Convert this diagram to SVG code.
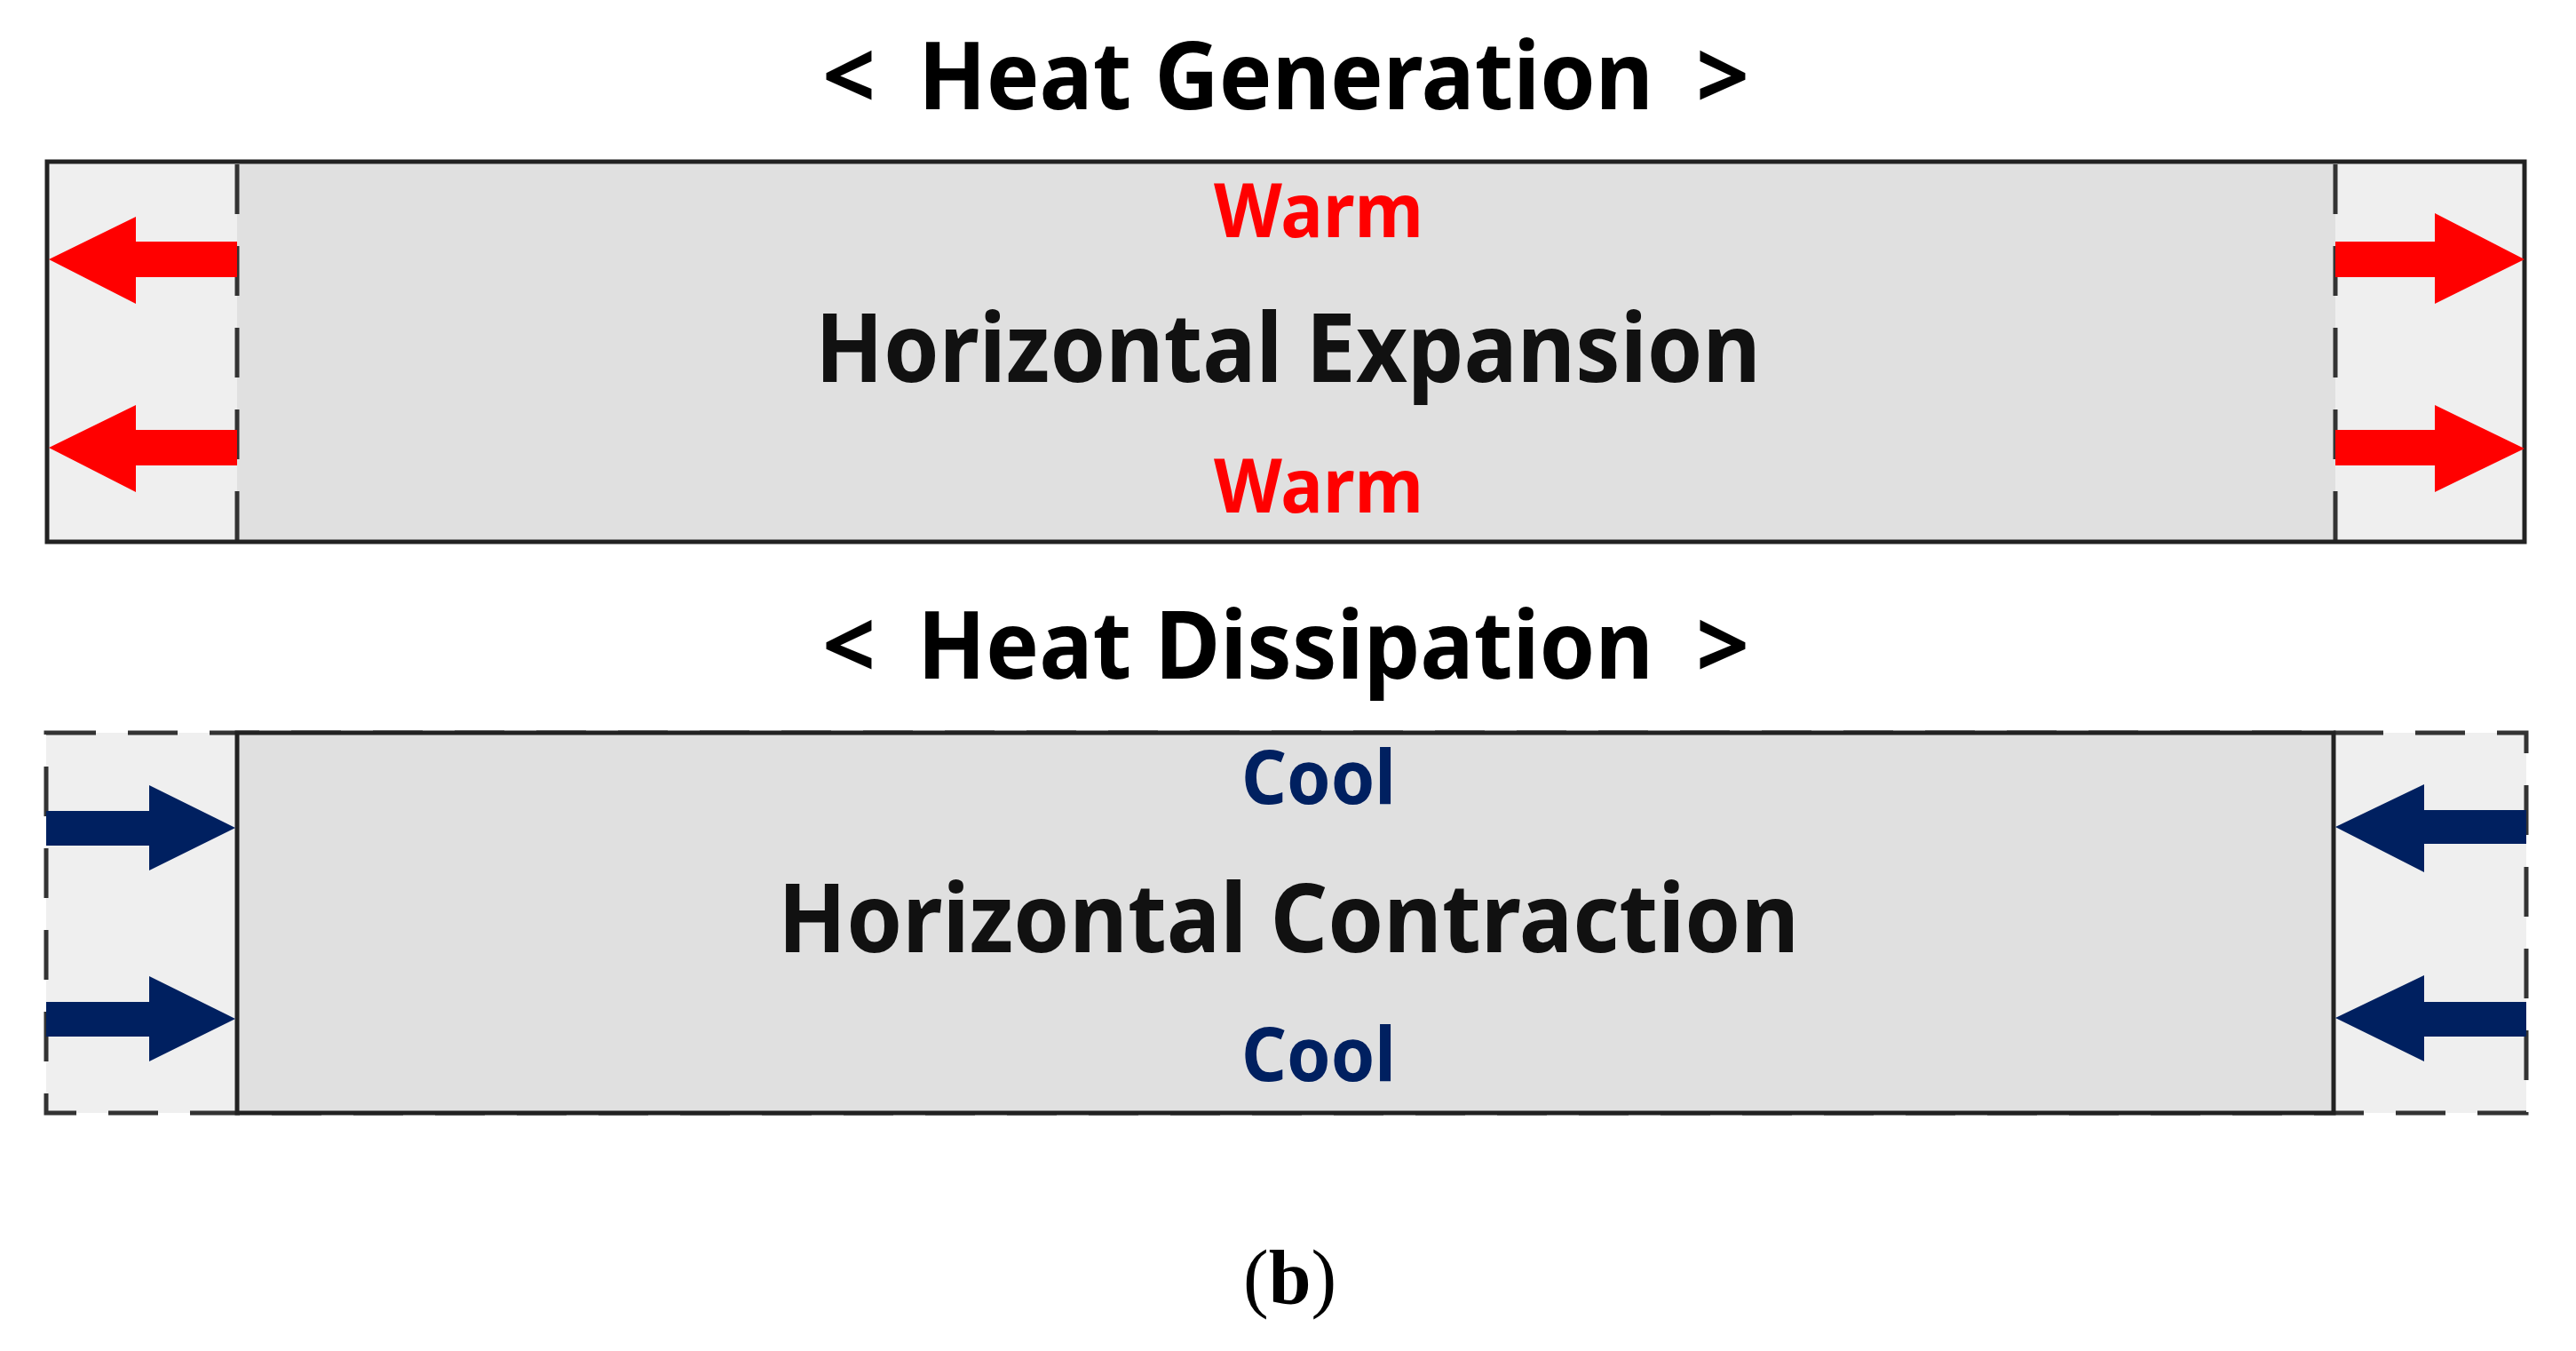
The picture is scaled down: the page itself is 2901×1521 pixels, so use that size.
<svg xmlns="http://www.w3.org/2000/svg" width="2901" height="1521" viewBox="0 0 2901 1521">
<style>
.t{font-family:"Noto Sans","Open Sans","Liberation Sans",sans-serif;font-weight:bold}
.title{font-size:105px;fill:#000}
.main{font-size:107px;fill:#111}
.warm{font-size:84px;fill:#ff0000}
.cool{font-size:84px;fill:#002060}
.solid{stroke:#222;stroke-width:5;fill:none}
.dash{stroke:#333;stroke-width:5;fill:none;stroke-dasharray:56 36}
.red{fill:#ff0000}
.navy{fill:#002060}
</style>
<rect width="2901" height="1521" fill="#fff"/>
<g id="title1">
<text class="t title" x="926" y="123">&lt;</text>
<text class="t title" x="1034" y="123" textLength="828" lengthAdjust="spacingAndGlyphs">Heat Generation</text>
<text class="t title" x="1910" y="123">&gt;</text>
</g>
<g id="expansion">
<rect x="53" y="182" width="2790" height="428" fill="#efefef"/>
<rect x="267" y="182" width="2363" height="428" fill="#e0e0e0"/>
<line class="dash" x1="267" y1="185" x2="267" y2="608"/>
<line class="dash" x1="2630" y1="185" x2="2630" y2="608"/>
<rect class="solid" x="53" y="182" width="2790" height="428"/>
<text class="t warm" x="1367" y="267" textLength="236" lengthAdjust="spacingAndGlyphs">Warm</text>
<text class="t main" x="918" y="430" textLength="1065" lengthAdjust="spacingAndGlyphs">Horizontal Expansion</text>
<text class="t warm" x="1367" y="577" textLength="236" lengthAdjust="spacingAndGlyphs">Warm</text>
</g>
<g id="title2">
<text class="t title" x="926" y="764">&lt;</text>
<text class="t title" x="1033" y="764" textLength="829" lengthAdjust="spacingAndGlyphs">Heat Dissipation</text>
<text class="t title" x="1910" y="764">&gt;</text>
</g>
<g id="contraction">
<rect x="52" y="825" width="2793" height="428" fill="#efefef"/>
<rect class="dash" x="52" y="825" width="2793" height="428"/>
<rect x="267" y="825" width="2361" height="428" fill="#e0e0e0" stroke="#222" stroke-width="5"/>
<text class="t cool" x="1398" y="905" textLength="174" lengthAdjust="spacingAndGlyphs">Cool</text>
<text class="t main" x="876" y="1072" textLength="1150" lengthAdjust="spacingAndGlyphs">Horizontal Contraction</text>
<text class="t cool" x="1398" y="1217" textLength="174" lengthAdjust="spacingAndGlyphs">Cool</text>
</g>
<g id="connectors">
<polygon class="red" points="267,272 153,272 153,244 55,292 153,342 153,312 267,312"/>
<polygon class="red" points="267,484 153,484 153,456 55,504 153,554 153,524 267,524"/>
<polygon class="red" points="2630,272 2742,272 2742,240 2843,292 2742,342 2742,312 2630,312"/>
<polygon class="red" points="2630,484 2742,484 2742,456 2843,505 2742,554 2742,524 2630,524"/>
<polygon class="navy" points="52,913 168,913 168,884 265,932 168,980 168,952 52,952"/>
<polygon class="navy" points="52,1128 168,1128 168,1099 265,1147 168,1195 168,1167 52,1167"/>
<polygon class="navy" points="2845,912 2730,912 2730,883 2630,931 2730,982 2730,950 2845,950"/>
<polygon class="navy" points="2845,1128 2730,1128 2730,1098 2630,1146 2730,1195 2730,1167 2845,1167"/>
</g>
<text x="1400" y="1467" font-family="'Liberation Serif',serif" font-size="86" fill="#000">(<tspan font-weight="bold">b</tspan>)</text>
</svg>
